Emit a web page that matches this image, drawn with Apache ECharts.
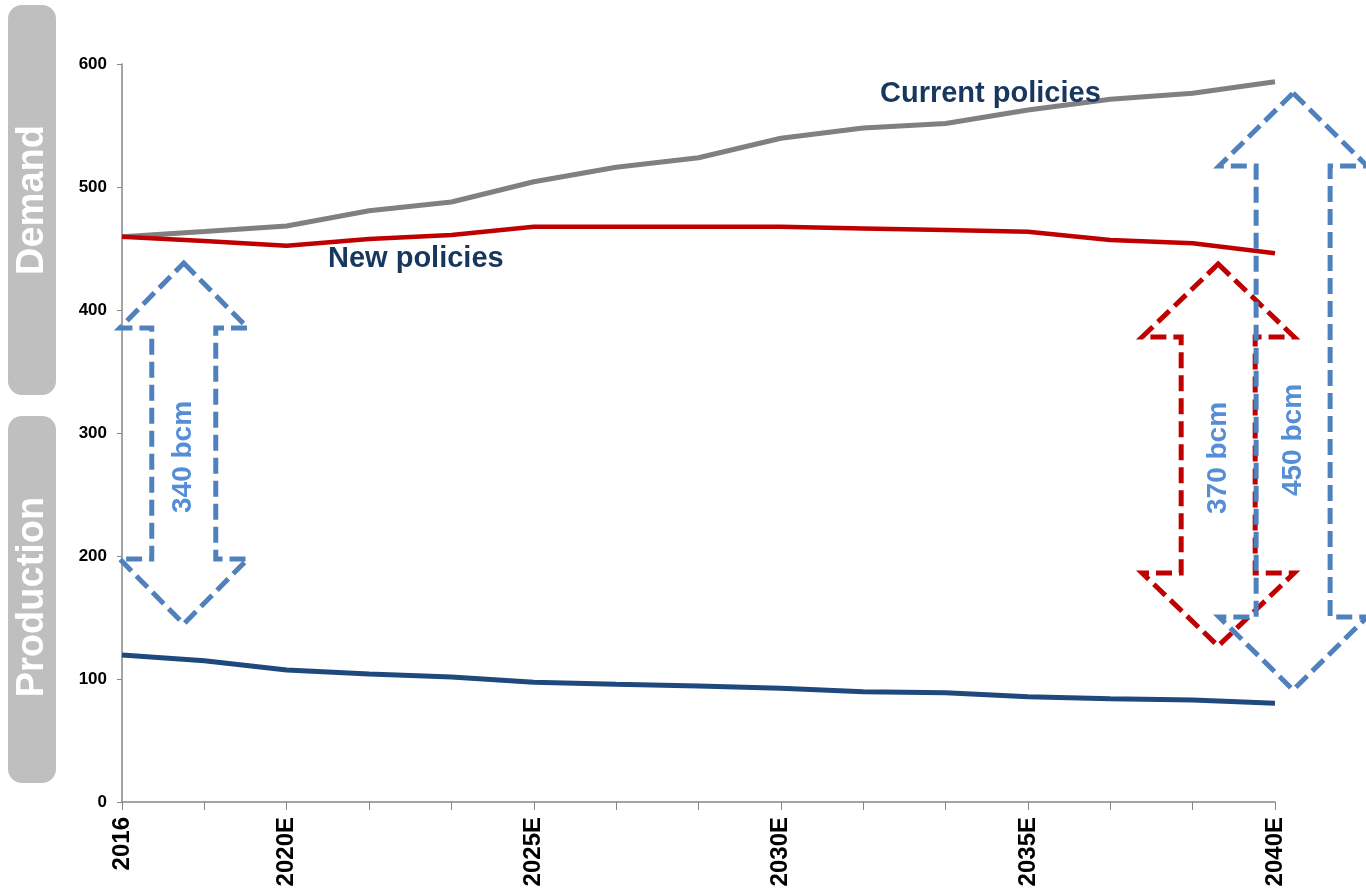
<!DOCTYPE html>
<html>
<head>
<meta charset="utf-8">
<style>
  html, body { margin: 0; padding: 0; background: #fff; }
  #main { width: 1366px; height: 893px; }
</style>
<script src="https://cdn.jsdelivr.net/npm/echarts@6/dist/echarts.min.js"></script>
</head>
<body>
<div id="main"></div>
<script>
// categories (only some are labelled on the axis)
var categories = ['2016', '', '2020E', '', '', '2025E', '', '', '2030E', '', '', '2035E', '', '', '2040E'];
var yTicks = [0, 100, 200, 300, 400, 500, 600];

// demand, bcm
var currentPolicies = [459.6, 463.8, 468.3, 480.7, 487.8, 504.3, 516.0, 523.8, 539.6, 548.0, 551.6, 562.6, 571.3, 576.2, 585.6];
var newPolicies = [459.6, 456.1, 452.3, 457.7, 461.0, 467.7, 467.7, 467.7, 467.7, 466.3, 465.0, 463.7, 456.9, 454.2, 446.1];
// production, bcm
var production = [119.5, 114.9, 107.3, 104.1, 101.6, 97.3, 95.7, 94.3, 92.4, 89.7, 88.9, 85.6, 84.0, 82.9, 80.2];

// gap arrows: [x position (category index), low, high, label position]
var gapArrows = [
  [0.75, 144.7, 438.2, 280.5],
  [13.31, 126.8, 437.4, 279.7],
  [14.22, 91.1, 576.4, 294.3]
];
var gapLabels = ['340 bcm', '370 bcm', '450 bcm'];

var font = 'Liberation Sans, Arial, sans-serif';
var navy = '#17375E';
// look of each arrow (colour, head half width, shaft half width, head length)
var arrowLook = [
  { color: '#4F81BD', hw: 64, sw: 32, hl: 65 },
  { color: '#C00000', hw: 76, sw: 37, hl: 73 },
  { color: '#4F81BD', hw: 74, sw: 37, hl: 73 }
];

var myChart = echarts.init(document.getElementById('main'));

var option = {
  animation: false,
  textStyle: { fontFamily: font },
  grid: { left: 122, right: 91, top: 64, bottom: 91, containLabel: false, outerBoundsMode: 'none' },
  xAxis: [{
    type: 'category',
    data: categories,
    boundaryGap: false,
    axisLine: { lineStyle: { color: '#868686', width: 1.5 } },
    axisTick: { interval: 0, length: 8, lineStyle: { color: '#868686' } },
    axisLabel: {
      interval: 0, rotate: 90, margin: 15,
      color: '#000', fontWeight: 'bold', fontSize: 24, fontFamily: font
    }
  }, {
    // hidden numeric copy of the x axis for the arrows
    type: 'value', min: 0, max: categories.length - 1, show: false
  }],
  yAxis: {
    type: 'value',
    min: yTicks[0],
    max: yTicks[yTicks.length - 1],
    interval: 100,
    splitLine: { show: false },
    axisLine: { show: true, lineStyle: { color: '#868686', width: 1.5 } },
    axisTick: { show: true, length: 5, lineStyle: { color: '#868686' } },
    axisLabel: { color: '#000', fontWeight: 'bold', fontSize: 17, margin: 15, fontFamily: font }
  },
  series: [
    {
      name: 'Current policies', type: 'line', data: currentPolicies,
      symbol: 'none', lineStyle: { color: '#808080', width: 5 }, z: 3
    },
    {
      name: 'New policies', type: 'line', data: newPolicies,
      symbol: 'none', lineStyle: { color: '#C00000', width: 4.5 }, z: 4
    },
    {
      name: 'Production', type: 'line', data: production,
      symbol: 'none', lineStyle: { color: '#1F497D', width: 5 }, z: 3
    },
    {
      type: 'custom',
      xAxisIndex: 1,
      yAxisIndex: 0,
      clip: false,
      z: 5,
      data: gapArrows,
      renderItem: function (params, api) {
        var i = params.dataIndex;
        var look = arrowLook[i];
        var top = api.coord([api.value(0), api.value(2)]);
        var bot = api.coord([api.value(0), api.value(1)]);
        var mid = api.coord([api.value(0), api.value(3)]);
        var cx = top[0], yt = top[1], yb = bot[1];
        var pts = [
          [cx, yt],
          [cx + look.hw, yt + look.hl],
          [cx + look.sw, yt + look.hl],
          [cx + look.sw, yb - look.hl],
          [cx + look.hw, yb - look.hl],
          [cx, yb],
          [cx - look.hw, yb - look.hl],
          [cx - look.sw, yb - look.hl],
          [cx - look.sw, yt + look.hl],
          [cx - look.hw, yt + look.hl]
        ];
        return {
          type: 'group',
          children: [{
            type: 'polygon',
            shape: { points: pts },
            style: { fill: null, stroke: look.color, lineWidth: 5, lineDash: [16, 7] }
          }, {
            type: 'text',
            x: cx, y: mid[1],
            rotation: Math.PI / 2,
            style: {
              text: gapLabels[i], fill: '#558ED5', font: 'bold 28px ' + font,
              align: 'center', verticalAlign: 'middle'
            }
          }]
        };
      }
    }
  ],
  graphic: [
    { type: 'rect', left: 8, top: 5, shape: { width: 48, height: 390, r: 14 }, style: { fill: '#BFBFBF' } },
    { type: 'rect', left: 8, top: 416, shape: { width: 48, height: 367, r: 14 }, style: { fill: '#BFBFBF' } },
    {
      type: 'text', x: 33, y: 200, rotation: Math.PI / 2,
      style: { text: 'Demand', fill: '#fff', font: 'bold 38px ' + font, align: 'center', verticalAlign: 'middle' }
    },
    {
      type: 'text', x: 33, y: 597, rotation: Math.PI / 2,
      style: { text: 'Production', fill: '#fff', font: 'bold 38px ' + font, align: 'center', verticalAlign: 'middle' }
    },
    {
      type: 'text', x: 880, y: 94, z: 10,
      style: { text: 'Current policies', fill: navy, font: 'bold 29px ' + font, align: 'left', verticalAlign: 'middle' }
    },
    {
      type: 'text', x: 328, y: 259, z: 10,
      style: { text: 'New policies', fill: navy, font: 'bold 29px ' + font, align: 'left', verticalAlign: 'middle' }
    }
  ]
};

myChart.setOption(option);
</script>
</body>
</html>
